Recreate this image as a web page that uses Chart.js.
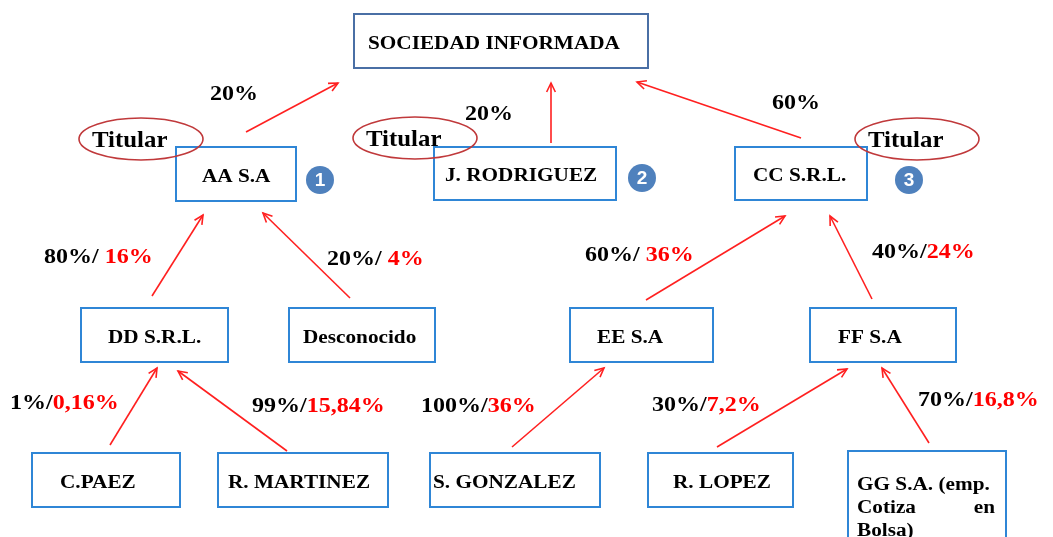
<!DOCTYPE html>
<html>
<head>
<meta charset="utf-8">
<script src="https://cdn.jsdelivr.net/npm/chart.js@4"></script>
<style>
  html, body { margin: 0; padding: 0; background: #fff; }
  #wrap { width: 1053px; height: 537px; }
</style>
</head>
<body>
<div id="wrap"><canvas id="c"></canvas></div>
<script>
// entidades del organigrama (0 = sociedad informada)
const nodeNames = ["SOCIEDAD INFORMADA", "AA S.A", "J. RODRIGUEZ", "CC S.R.L.", "DD S.R.L.", "Desconocido",
  "EE S.A", "FF S.A", "C.PAEZ", "R. MARTINEZ", "S. GONZALEZ", "R. LOPEZ", "GG S.A. (emp. Cotiza en Bolsa)"];
const parentOf = [null, 0, 0, 0, 1, 1, 3, 3, 4, 4, 6, 7, 7];
const directPct = ["", "20%", "20%", "60%", "80%/ ", "20%/ ", "60%/ ", "40%/", "1%/", "99%/", "100%/", "30%/", "70%/"];
const indirectPct = ["", "", "", "", "16%", "4%", "36%", "24%", "0,16%", "15,84%", "36%", "7,2%", "16,8%"];
const titulares = [1, 2, 3]; // nodos marcados como "Titular"
const badgeNums = ["1", "2", "3"];

// layout en unidades del diagrama (ejes 0..1053 / 0..537)
const nodeBox = [[354, 14, 294, 54], [176, 147, 120, 54], [434, 147, 182, 53], [735, 147, 132, 53],
  [81, 308, 147, 54], [289, 308, 146, 54], [570, 308, 143, 54], [810, 308, 146, 54],
  [32, 453, 148, 54], [218, 453, 170, 54], [430, 453, 170, 54], [648, 453, 145, 54], [848, 451, 158, 100]];
const nodeTextX = [368, 202, 445, 753, 108, 303, 597, 838, 60, 228, 433, 673, 857];
const arrowStart = [null, [246, 132], [551, 143], [801, 138], [152, 296], [350, 298], [646, 300], [872, 299],
  [110, 445], [287, 451], [512, 447], [717, 447], [929, 443]];
const arrowEnd = [null, [338, 83], [551, 83], [637, 82], [203, 215], [263, 213], [785, 216], [830, 216],
  [157, 368], [178, 371], [604, 368], [847, 369], [882, 368]];
const pctPos = [null, [210, 95], [465, 115], [772, 104], [44, 258], [327, 260], [585, 256], [872, 253],
  [10, 404], [252, 407], [421, 407], [652, 406], [918, 401]];
const ellipsePos = [[141, 139], [415, 138], [917, 139]];
const titularTextX = [92, 366, 868];
const badgePos = [[320, 180], [642, 178], [909, 180]];

const STRETCH = 1.18;
const RED = "#ff0000";

function stretchText(ctx, txt, x, y, sx) {
  ctx.save();
  ctx.translate(x, y);
  ctx.scale(sx, 1);
  ctx.fillText(txt, 0, 0);
  ctx.restore();
  return ctx.measureText(txt).width * sx;
}

// un trazo por cada relación de participación (hijo -> padre)
const datasets = [];
for (let i = 1; i < nodeNames.length; i++) {
  datasets.push({
    label: nodeNames[i] + " -> " + nodeNames[parentOf[i]],
    data: [{ x: arrowStart[i][0], y: arrowStart[i][1] }, { x: arrowEnd[i][0], y: arrowEnd[i][1] }],
    showLine: true,
    borderColor: "#ff2020",
    borderWidth: 1.6,
    pointRadius: 0,
    clip: false
  });
}

const diagram = {
  id: "diagram",
  afterDatasetsDraw(chart) {
    const { ctx } = chart;
    const sx = chart.scales.x, sy = chart.scales.y;
    const px = v => sx.getPixelForValue(v);
    const py = v => sy.getPixelForValue(v);

    // puntas de flecha
    ctx.save();
    ctx.strokeStyle = "#ff2020";
    ctx.lineWidth = 1.6;
    chart.data.datasets.forEach((ds, k) => {
      const pts = chart.getDatasetMeta(k).data;
      const a = pts[0], b = pts[1];
      const ang = Math.atan2(b.y - a.y, b.x - a.x);
      const L = 10;
      ctx.beginPath();
      ctx.moveTo(b.x - L * Math.cos(ang - 0.45), b.y - L * Math.sin(ang - 0.45));
      ctx.lineTo(b.x, b.y);
      ctx.lineTo(b.x - L * Math.cos(ang + 0.45), b.y - L * Math.sin(ang + 0.45));
      ctx.stroke();
    });
    ctx.restore();

    // cajas
    ctx.save();
    ctx.textBaseline = "middle";
    nodeNames.forEach((name, i) => {
      const [bx, by, bw, bh] = nodeBox[i];
      const x0 = px(bx), y0 = py(by), w = px(bx + bw) - x0, h = py(by + bh) - y0;
      ctx.fillStyle = "#fff";
      ctx.fillRect(x0, y0, w, h);
      ctx.strokeStyle = i === 0 ? "#4a6fa5" : "#2f86d6";
      ctx.lineWidth = i === 0 ? 2 : 2;
      ctx.strokeRect(x0, y0, w, h);
      ctx.fillStyle = "#000";
      ctx.font = "bold 18px 'Liberation Serif', serif";
      if (i === 12) {
        // texto justificado en tres líneas
        const tx = px(nodeTextX[i]), right = px(995);
        stretchText(ctx, "GG S.A. (emp.", tx, py(485), STRETCH);
        stretchText(ctx, "Cotiza", tx, py(508), STRETCH);
        const wEn = ctx.measureText("en").width * STRETCH;
        stretchText(ctx, "en", right - wEn, py(508), STRETCH);
        stretchText(ctx, "Bolsa)", tx, py(531), STRETCH);
      } else {
        stretchText(ctx, name, px(nodeTextX[i]), y0 + h / 2 + 3, STRETCH);
      }
    });
    ctx.restore();

    // porcentajes (directo en negro / indirecto en rojo)
    ctx.save();
    ctx.textBaseline = "middle";
    ctx.font = "bold 20px 'Liberation Serif', serif";
    for (let i = 1; i < nodeNames.length; i++) {
      let x = px(pctPos[i][0]);
      const y = py(pctPos[i][1]);
      ctx.fillStyle = "#000";
      x += stretchText(ctx, directPct[i], x, y, 1.2);
      if (indirectPct[i]) {
        ctx.fillStyle = RED;
        stretchText(ctx, indirectPct[i], x, y, 1.2);
      }
    }
    ctx.restore();

    // "Titular" + número
    ctx.save();
    titulares.forEach((n, k) => {
      const [ex, ey] = ellipsePos[k];
      ctx.textBaseline = "middle";
      ctx.fillStyle = "#000";
      ctx.font = "bold 23px 'Liberation Serif', serif";
      stretchText(ctx, "Titular", px(titularTextX[k]), py(ey + 2), 1.08);
      ctx.strokeStyle = "#c0393b";
      ctx.lineWidth = 1.6;
      ctx.beginPath();
      ctx.ellipse(px(ex), py(ey), px(62) - px(0), py(21) - py(0), 0, 0, Math.PI * 2);
      ctx.stroke();

      const [cx, cy] = badgePos[k];
      ctx.fillStyle = "#4f81bd";
      ctx.beginPath();
      ctx.arc(px(cx), py(cy), 14, 0, Math.PI * 2);
      ctx.fill();
      ctx.fillStyle = "#fff";
      ctx.textAlign = "center";
      ctx.font = "bold 19px 'Liberation Sans', sans-serif";
      ctx.fillText(badgeNums[k], px(cx), py(cy) + 1);
      ctx.textAlign = "left";
    });
    ctx.restore();
  }
};

new Chart(document.getElementById("c"), {
  type: "scatter",
  data: { datasets: datasets },
  options: {
    responsive: true,
    maintainAspectRatio: false,
    animation: false,
    layout: { padding: 0 },
    plugins: { legend: { display: false }, tooltip: { enabled: false } },
    scales: {
      x: { type: "linear", min: 0, max: 1053, display: false },
      y: { type: "linear", min: 0, max: 537, reverse: true, display: false }
    }
  },
  plugins: [diagram]
});
</script>
</body>
</html>
